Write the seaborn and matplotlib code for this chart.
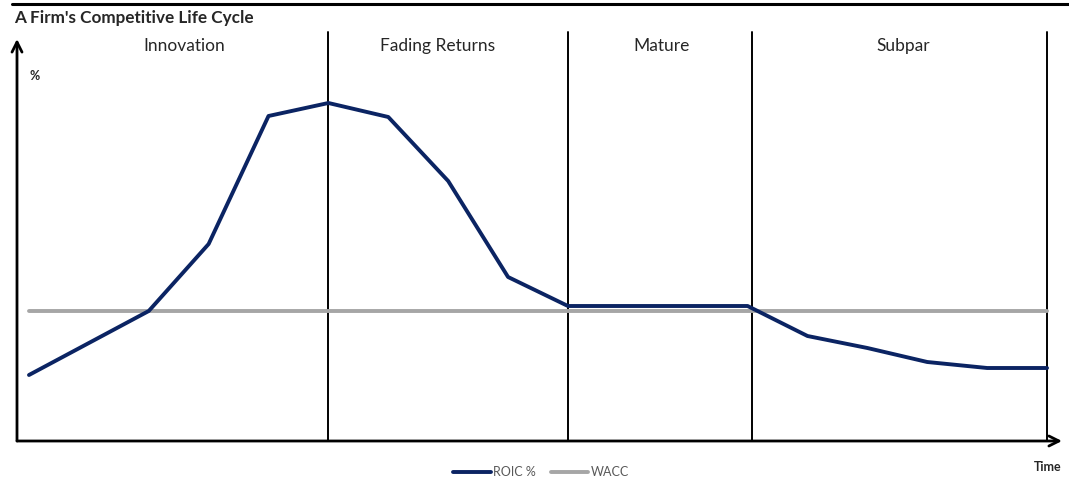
import numpy as np
import pandas as pd
import matplotlib
matplotlib.use("Agg")
import matplotlib.pyplot as plt
import seaborn as sns
from matplotlib.lines import Line2D

sns.set_style("white")
plt.rcParams["font.family"] = ["Lato", "DejaVu Sans"]

# data (arbitrary % units)
periods = list(range(18))
roic = [6.6, 9.8, 13.0, 19.7, 32.5, 33.8, 32.4, 26.0, 16.4, 13.5,
        13.5, 13.5, 13.5, 10.5, 9.3, 7.9, 7.3, 7.3]
wacc = [13.0] * 18
phase_names = ["Innovation", "Fading Returns", "Mature", "Subpar"]
phase_label_x = [2.6, 6.83, 10.57, 14.6]
phase_edges = [5, 9, 12.07, 17]

df = pd.DataFrame({
    "t": periods * 2,
    "value": roic + wacc,
    "series": ["ROIC %"] * 18 + ["WACC"] * 18,
})

W, H = 1069, 479
fig = plt.figure(figsize=(W / 100, H / 100), dpi=100)
ax = fig.add_axes([17 / W, (H - 441) / H, (1062 - 17) / W, (441 - 31) / H])

colors = {"ROIC %": "#0b2463", "WACC": "#a6a6a6"}
sns.lineplot(data=df, x="t", y="value", hue="series", palette=colors,
             hue_order=["WACC", "ROIC %"], linewidth=2.8, ax=ax, legend=False)

ax.set_xlim(-0.2, 17.25)
ax.set_ylim(0, 41)
for s in ax.spines.values():
    s.set_visible(False)
ax.set_xticks([])
ax.set_yticks([])
ax.set_xlabel("")
ax.set_ylabel("")

# phase dividers and labels
for e in phase_edges:
    ax.plot([e, e], [0, 40.9], color="black", lw=1.4, zorder=1)
for x, name in zip(phase_label_x, phase_names):
    ax.text(x, 39.5, name, ha="center", va="center", fontsize=12.5, color="#262626")

# axes with arrows
ax.annotate("", xy=(-0.2, 40.2), xytext=(-0.2, 0),
            arrowprops=dict(arrowstyle="->", lw=2, color="black", mutation_scale=18,
                            shrinkA=0, shrinkB=0))
ax.annotate("", xy=(17.25, 0), xytext=(-0.2, 0),
            arrowprops=dict(arrowstyle="->", lw=2, color="black", mutation_scale=18,
                            shrinkA=0, shrinkB=0))

fig.text(35 / W, 1 - 76 / H, "%", fontsize=9, fontweight="bold", ha="center", va="center")
fig.text(1048 / W, 1 - 467 / H, "Time", fontsize=9, fontweight="bold", ha="center", va="center")
fig.text(14 / W, 1 - 18 / H, "A Firm's Competitive Life Cycle", fontsize=12.3,
         fontweight="bold", ha="left", va="center")
fig.add_artist(Line2D([12 / W, 1], [1 - 4 / H, 1 - 4 / H], color="black", lw=2.2))

handles = [Line2D([], [], color=colors["ROIC %"], lw=2.8),
           Line2D([], [], color=colors["WACC"], lw=2.8)]
fig.legend(handles, ["ROIC %", "WACC"], loc="center", bbox_to_anchor=(541 / W, 1 - 472 / H),
           ncol=2, frameon=False, fontsize=9, labelcolor="#595959",
           handlelength=3, columnspacing=1.2, handletextpad=0.2)

fig.savefig("out.png", dpi=100)
